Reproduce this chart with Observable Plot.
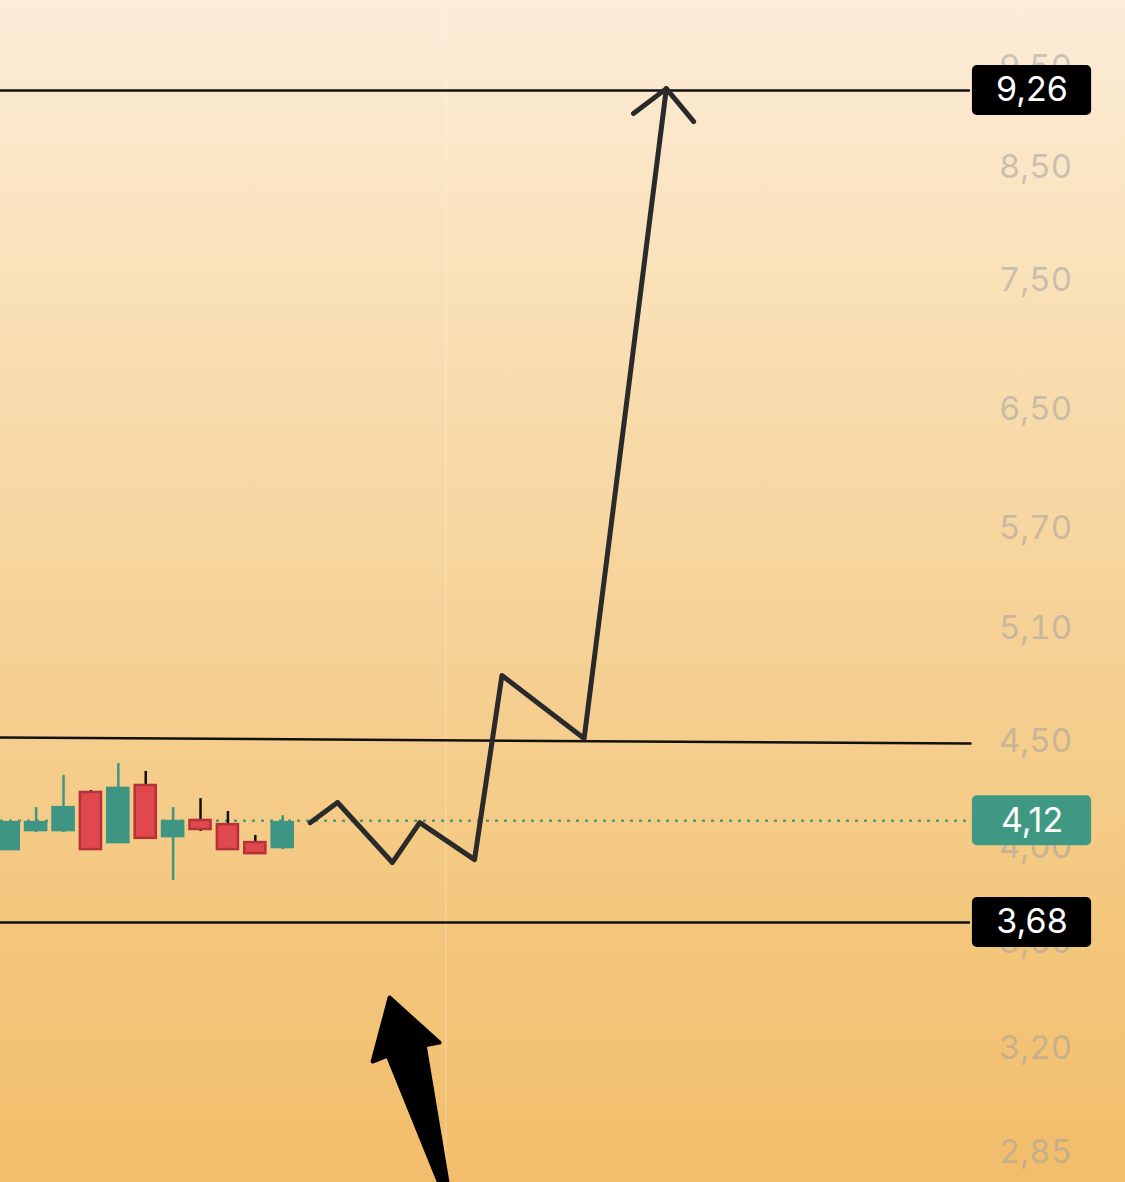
<!DOCTYPE html>
<html><head><meta charset="utf-8">
<script src="https://cdn.jsdelivr.net/npm/d3@7"></script>
<script src="https://cdn.jsdelivr.net/npm/@observablehq/plot@0.6"></script>
<style>
html,body{margin:0;padding:0;background:#f5cc8a;}
#chart svg{display:block;}
</style>
</head><body><div id="chart"></div>
<script>
// ---- data ----
const candleIndex = [0, 1, 2, 3, 4, 5, 6, 7, 8, 9, 10];
const candleOpen  = [3.990, 4.075, 4.075, 4.251, 4.021, 4.284, 4.048, 4.121, 4.102, 4.021, 3.999];
const candleClose = [4.111, 4.111, 4.180, 3.990, 4.270, 4.040, 4.116, 4.080, 3.990, 3.972, 4.111];
const candleHigh  = [4.115, 4.180, 4.332, 4.260, 4.390, 4.351, 4.180, 4.222, 4.162, 4.053, 4.143];
const candleLow   = [3.990, 4.066, 4.066, 3.990, 4.017, 4.040, 3.855, 4.071, 3.990, 3.972, 3.990];

const pathX = [11, 12, 14, 15, 17, 18, 21, 24];
const pathY = [4.111, 4.204, 3.933, 4.111, 3.946, 4.840, 4.513, 9.280];
const arrowHeadX = [22.8, 24, 25.0];
const arrowHeadY = [9.027, 9.280, 8.947];

const levelValues = [9.26, 3.68];
const levelLabels = ["9,26", "3,68"];
const currentPrice = 4.12;
const currentLabel = "4,12";
const trendX = [-0.3, 35.1];
const trendY = [4.518, 4.488];

const tickValues = [9.5, 8.5, 7.5, 6.5, 5.7, 5.1, 4.5, 4.0, 3.6, 3.2, 2.85];

const bigArrowX = [13.90, 15.72, 15.18, 16.13, 15.99, 13.83, 13.28, 13.90];
const bigArrowY = [3.386, 3.221, 3.211, 2.700, 2.700, 3.175, 3.154, 3.386];

// ---- build ----
const candles = candleIndex.map((i, k) => ({
  i, open: candleOpen[k], close: candleClose[k], high: candleHigh[k], low: candleLow[k],
  up: candleClose[k] >= candleOpen[k]
}));
const GREEN = "#3f9583", RED = "#e0484e", REDSTROKE = "#b3333a";
const halfW = 0.385;
const boxX1 = 35.17, boxX2 = 39.52, boxCx = (boxX1 + boxX2) / 2;
const boxHalf = Math.exp(25 / 901.6);

const chart = Plot.plot({
  width: 1125, height: 1182,
  marginTop: 0, marginBottom: 0, marginLeft: 0, marginRight: 155,
  x: {domain: [-0.3, 35.1], axis: null},
  y: {type: "log", domain: [2.758, 10.233], axis: null},
  style: {
    background: "linear-gradient(to bottom, #fcedd9 0%, #f9e0b6 25%, #f6d39a 50%, #f4c880 75%, #f2bd6b 100%)",
    fontFamily: "Inter, Roboto, sans-serif",
    overflow: "hidden"
  },
  marks: [
    Plot.ruleX([15.95], {stroke: "#ffffff", strokeOpacity: 0.18, strokeWidth: 2}),
    Plot.axisY(tickValues, {
      anchor: "right", tickSize: 0, tickPadding: 0, dx: 65, textAnchor: "middle",
      fontSize: 33, fill: "#a0a0a0", fillOpacity: 0.55, label: null,
      tickFormat: d => d.toFixed(2).replace(".", ",")
    }),
    // level lines
    Plot.ruleY(levelValues, {x1: -0.3, x2: 35.1, stroke: "#111", strokeWidth: 2.5}),
    Plot.line(trendX.map((x, k) => ({x, y: trendY[k]})), {x: "x", y: "y", stroke: "#111", strokeWidth: 2.5}),
    Plot.ruleY([currentPrice], {x1: -0.3, x2: 35.1, stroke: "#4f9a7c", strokeWidth: 2.5, strokeDasharray: "3,6"}),
    // candles
    Plot.ruleX(candles, {x: "i", y1: "low", y2: "high", stroke: d => d.up ? GREEN : "#111", strokeWidth: 2.5}),
    Plot.rect(candles, {
      x1: d => d.i - halfW, x2: d => d.i + halfW,
      y1: "open", y2: "close",
      fill: d => d.up ? GREEN : RED,
      stroke: d => d.up ? GREEN : REDSTROKE, strokeWidth: 2.5
    }),
    // projected path
    Plot.line(pathX.map((x, k) => ({x, y: pathY[k]})), {
      x: "x", y: "y", stroke: "#2a2a2a", strokeWidth: 5, strokeLinejoin: "round", strokeLinecap: "round"
    }),
    Plot.line(arrowHeadX.map((x, k) => ({x, y: arrowHeadY[k]})), {
      x: "x", y: "y", stroke: "#2a2a2a", strokeWidth: 5, strokeLinejoin: "round", strokeLinecap: "round"
    }),
    // big arrow
    Plot.line(bigArrowX.map((x, k) => ({x, y: bigArrowY[k]})), {
      x: "x", y: "y", fill: "#000", stroke: "#000", strokeWidth: 4, strokeLinejoin: "round", clip: true
    }),
    // price boxes
    Plot.rect(levelValues, {x1: boxX1, x2: boxX2, y1: d => d / boxHalf, y2: d => d * boxHalf, fill: "#000", rx: 5}),
    Plot.text(levelValues, {x: boxCx, y: d => d, text: (d, k) => levelLabels[k], fill: "#fff", fontSize: 34, textAnchor: "middle"}),
    Plot.rect([currentPrice], {x1: boxX1, x2: boxX2, y1: d => d / boxHalf, y2: d => d * boxHalf, fill: "#3f9882", rx: 5}),
    Plot.text([currentPrice], {x: boxCx, y: d => d, text: [currentLabel], fill: "#fff", fontSize: 34, textAnchor: "middle"})
  ]
});
document.getElementById("chart").appendChild(chart);
</script>
</body></html>
